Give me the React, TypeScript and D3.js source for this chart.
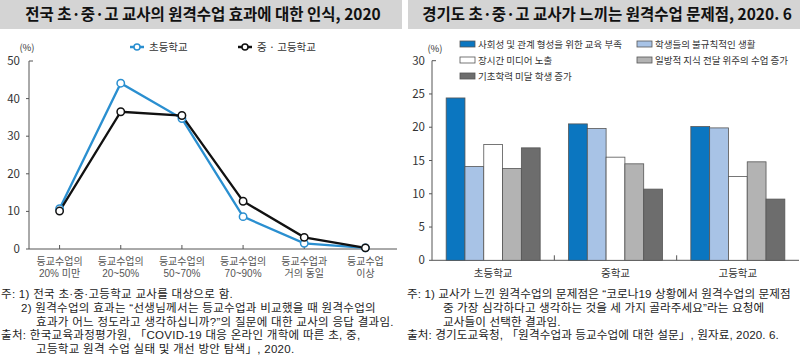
import React from 'react';
import * as d3 from 'd3';

// left chart: perception of remote class effect
const effectCats = [
  ['등교수업의', '20% 미만'],
  ['등교수업의', '20~50%'],
  ['등교수업의', '50~70%'],
  ['등교수업의', '70~90%'],
  ['등교수업과', '거의 동일'],
  ['등교수업', '이상'],
];
const elemValues = [10.7, 44.1, 34.7, 8.6, 1.5, 0.3];
const midHighValues = [10.1, 36.5, 35.5, 12.7, 3.1, 0.3];
const leftTicks = [0, 10, 20, 30, 40, 50];

// right chart: problems of remote classes
const schoolGroups = ['초등학교', '중학교', '고등학교'];
const problemSeries = [
  '사회성 및 관계 형성을 위한 교육 부족',
  '학생들의 불규칙적인 생활',
  '장시간 미디어 노출',
  '일방적 지식 전달 위주의 수업 증가',
  '기초학력 미달 학생 증가',
];
const problemValues = [
  [24.4, 14.1, 17.4, 13.8, 16.9],
  [20.5, 19.8, 15.5, 14.5, 10.7],
  [20.1, 19.9, 12.6, 14.8, 9.2],
];
const rightTicks = [0, 5, 10, 15, 20, 25, 30];
const barColors = ['#0b76c0', '#a8c3e6', '#ffffff', '#b3b3b3', '#6d6d6d'];

const FONT = '"Noto Sans CJK KR", "Noto Sans", sans-serif';
// tighter line metrics for the stacked small texts
const NOTE_FONT = '"Liberation Sans", "Noto Sans CJK KR", sans-serif';
const AXIS = '#555';
const TXT = '#333';
const BLUE = '#2a8fd0';

const App: React.FC = () => {
  // left scales
  const xL = d3.scalePoint<number>().domain(d3.range(effectCats.length)).range([29, 396]).padding(0.5);
  const yL = d3.scaleLinear().domain([0, 50]).range([249, 61]);
  const line = d3.line<number>().x((_, i) => xL(i)!).y(d => yL(d));

  // right scales
  const xR = d3.scaleBand().domain(schoolGroups).range([432, 799]);
  const groupW = 94;
  const xSub = d3.scaleBand<number>().domain(d3.range(problemSeries.length)).range([0, groupW]);
  const yR = d3.scaleLinear().domain([0, 30]).range([260.3, 60.7]);

  const legendPos = [
    [460, 44], [637, 44], [460, 60], [637, 60], [460, 76],
  ];

  return (
    <svg width={800} height={358} style={{ position: 'absolute', left: 0, top: 0, background: '#fff' }} fontFamily={FONT}>
      {/* title bars */}
      <rect x={0} y={0} width={402} height={29} fill="#d4d4d4" />
      <rect x={408} y={0} width={392} height={29} fill="#d4d4d4" />
      <text x={203} y={20} textAnchor="middle" fontSize={15.5} fontWeight="bold" fill="#111">
        전국 초·중·고 교사의 원격수업 효과에 대한 인식, 2020
      </text>
      <text x={607} y={20} textAnchor="middle" fontSize={15.5} fontWeight="bold" fill="#111">
        경기도 초·중·고 교사가 느끼는 원격수업 문제점, 2020. 6
      </text>

      {/* ---------- left chart ---------- */}
      <text x={27} y={51} textAnchor="middle" fontSize={9.5} fill={TXT}>(%)</text>
      <g fontSize={10.5} fill={TXT}>
        <line x1={130} x2={144} y1={47} y2={47} stroke={BLUE} strokeWidth={2.5} />
        <circle cx={137} cy={47} r={3} fill="#fff" stroke={BLUE} strokeWidth={1.5} />
        <text x={149} y={51}>초등학교</text>
        <line x1={238} x2={252} y1={47} y2={47} stroke="#111" strokeWidth={2.5} />
        <circle cx={245} cy={47} r={3} fill="#fff" stroke="#111" strokeWidth={1.5} />
        <text x={257} y={51}>중 · 고등학교</text>
      </g>
      <line x1={29} x2={29} y1={yL(50)} y2={yL(0)} stroke={AXIS} />
      <line x1={29} x2={397} y1={yL(0)} y2={yL(0)} stroke={AXIS} />
      {leftTicks.map(t => (
        <g key={t}>
          <line x1={t === 50 ? 29 : 26} x2={t === 50 ? 33 : 29} y1={yL(t)} y2={yL(t)} stroke={AXIS} />
          <text x={20} y={yL(t) + 4} textAnchor="end" fontSize={11.5} fill={TXT}>{t}</text>
        </g>
      ))}
      {effectCats.map((c, i) => (
        <g key={i} fontFamily={NOTE_FONT} fontSize={10} fill="#555">
          <line x1={xL(i)!} x2={xL(i)!} y1={yL(0)} y2={yL(0) - 4} stroke={AXIS} />
          <text x={xL(i)!} y={265} textAnchor="middle">{c[0]}</text>
          <text x={xL(i)!} y={277} textAnchor="middle">{c[1]}</text>
        </g>
      ))}
      <path d={line(elemValues)!} fill="none" stroke={BLUE} strokeWidth={2.3} />
      <path d={line(midHighValues)!} fill="none" stroke="#111" strokeWidth={2.3} />
      {elemValues.map((v, i) => (
        <circle key={'e' + i} cx={xL(i)!} cy={yL(v)} r={3.7} fill="#fff" stroke={BLUE} strokeWidth={1.5} />
      ))}
      {midHighValues.map((v, i) => (
        <circle key={'m' + i} cx={xL(i)!} cy={yL(v)} r={3.7} fill="#fff" stroke="#111" strokeWidth={1.5} />
      ))}

      {/* left notes */}
      <g fontFamily={NOTE_FONT} fontSize={11.5} fill="#222" letterSpacing={0.3}>
        <text x={1} y={298}>주: 1) 전국 초·중·고등학교 교사를 대상으로 함.</text>
        <text x={21} y={312}>2) 원격수업의 효과는 “선생님께서는 등교수업과 비교했을 때 원격수업의</text>
        <text x={36} y={326}>효과가 어느 정도라고 생각하십니까?”의 질문에 대한 교사의 응답 결과임.</text>
        <text x={1} y={339}>출처: 한국교육과정평가원, 「COVID-19 대응 온라인 개학에 따른 초, 중,</text>
        <text x={36} y={353}>고등학교 원격 수업 실태 및 개선 방안 탐색」, 2020.</text>
      </g>

      {/* ---------- right chart ---------- */}
      <text x={435} y={52} textAnchor="middle" fontSize={9.5} fill={TXT}>(%)</text>
      {problemSeries.map((s, i) => (
        <g key={s}>
          <rect x={legendPos[i][0]} y={legendPos[i][1] - 3} width={15} height={6} fill={barColors[i]} stroke="#555" strokeWidth={0.8} />
          <text x={legendPos[i][0] + 18} y={legendPos[i][1] + 4} fontSize={9.5} fill={TXT}>{s}</text>
        </g>
      ))}
      <line x1={432} x2={432} y1={yR(30)} y2={yR(0)} stroke={AXIS} />
      <line x1={432} x2={799} y1={yR(0)} y2={yR(0)} stroke={AXIS} />
      {rightTicks.map(t => (
        <g key={t}>
          <line x1={t === 30 ? 432 : 429} x2={t === 30 ? 436 : 432} y1={yR(t)} y2={yR(t)} stroke={AXIS} />
          <text x={425} y={yR(t) + 4} textAnchor="end" fontSize={11.5} fill={TXT}>{t}</text>
        </g>
      ))}
      {schoolGroups.map((g, gi) => {
        const x0 = xR(g)! + (xR.bandwidth() - groupW) / 2;
        return (
          <g key={g}>
            {gi > 0 && <line x1={xR(g)!} x2={xR(g)!} y1={yR(0)} y2={yR(0) - 5} stroke={AXIS} />}
            {problemValues[gi].map((v, si) => (
              <rect key={si} x={x0 + xSub(si)!} y={yR(v)} width={xSub.bandwidth()} height={yR(0) - yR(v)}
                fill={barColors[si]} stroke="#555" strokeWidth={0.8} />
            ))}
            <text x={xR(g)! + xR.bandwidth() / 2} y={277} textAnchor="middle" fontSize={10.5} fill={TXT}>{g}</text>
          </g>
        );
      })}

      {/* right notes */}
      <g fontFamily={NOTE_FONT} fontSize={11.6} fill="#222" letterSpacing={0.1}>
        <text x={407} y={298}>주: 1) 교사가 느낀 원격수업의 문제점은 “코로나19 상황에서 원격수업의 문제점</text>
        <text x={443} y={312}>중 가장 심각하다고 생각하는 것을 세 가지 골라주세요”라는 요청에</text>
        <text x={443} y={326}>교사들이 선택한 결과임.</text>
        <text x={407} y={339}>출처: 경기도교육청, 「원격수업과 등교수업에 대한 설문」, 원자료, 2020. 6.</text>
      </g>
    </svg>
  );
};

export default App;
